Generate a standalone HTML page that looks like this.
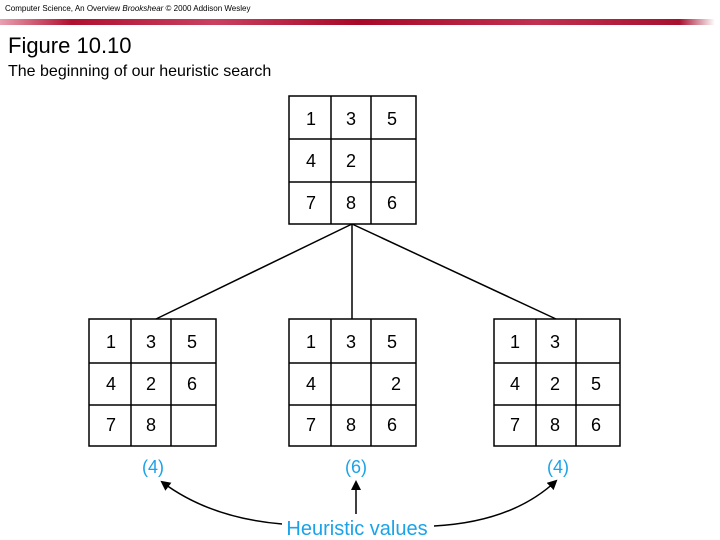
<!DOCTYPE html>
<html><head><meta charset="utf-8"><style>
html,body{margin:0;padding:0;background:#fff}
svg{display:block}
</style></head><body>
<svg width="720" height="540" viewBox="0 0 720 540" xmlns="http://www.w3.org/2000/svg" font-family="Liberation Sans, sans-serif">
<defs>
<linearGradient id="rb" x1="0" x2="1" y1="0" y2="0">
<stop offset="0" stop-color="#e8a0b0"/><stop offset="0.1" stop-color="#b01030"/><stop offset="0.3" stop-color="#c84060"/><stop offset="0.5" stop-color="#a80828"/><stop offset="0.75" stop-color="#c03050"/><stop offset="0.95" stop-color="#a81030"/><stop offset="1" stop-color="#fff"/>
</linearGradient>
<marker id="ah" markerWidth="10" markerHeight="10" refX="8" refY="5" orient="auto" markerUnits="userSpaceOnUse"><path d="M0,0 L10,5 L0,10 z" fill="#000"/></marker>
</defs>
<text x="5" y="11" font-size="8" fill="#000">Computer Science, An Overview <tspan font-style="italic">Brookshear</tspan> © 2000 Addison Wesley</text>
<rect x="0" y="19" width="715" height="6" fill="url(#rb)"/>
<text x="8" y="53" font-size="22" fill="#000">Figure 10.10</text>
<text x="8" y="76" font-size="16" fill="#000">The beginning of our heuristic search</text>
<g stroke="#000" stroke-width="1.5" fill="none">
<line x1="352" y1="224" x2="156" y2="319"/><line x1="352" y1="224" x2="352" y2="319"/><line x1="352" y1="224" x2="556" y2="319"/>
<!-- top -->
<rect x="289" y="96" width="127" height="128"/><line x1="331" y1="96" x2="331" y2="224"/><line x1="371" y1="96" x2="371" y2="224"/><line x1="289" y1="139" x2="416" y2="139"/><line x1="289" y1="182" x2="416" y2="182"/>
<!-- bottoms -->
<rect x="89" y="319" width="127" height="127"/><line x1="131" y1="319" x2="131" y2="446"/><line x1="171" y1="319" x2="171" y2="446"/><line x1="89" y1="363" x2="216" y2="363"/><line x1="89" y1="405" x2="216" y2="405"/>
<rect x="289" y="319" width="127" height="127"/><line x1="331" y1="319" x2="331" y2="446"/><line x1="371" y1="319" x2="371" y2="446"/><line x1="289" y1="363" x2="416" y2="363"/><line x1="289" y1="405" x2="416" y2="405"/>
<rect x="494" y="319" width="126" height="127"/><line x1="536" y1="319" x2="536" y2="446"/><line x1="576" y1="319" x2="576" y2="446"/><line x1="494" y1="363" x2="620" y2="363"/><line x1="494" y1="405" x2="620" y2="405"/>
</g>
<g font-size="18" fill="#000" text-anchor="middle">
<text x="311" y="125">1</text><text x="351" y="125">3</text><text x="392" y="125">5</text>
<text x="311" y="167">4</text><text x="351" y="167">2</text>
<text x="311" y="209">7</text><text x="351" y="209">8</text><text x="392" y="209">6</text>

<text x="111" y="348">1</text><text x="151" y="348">3</text><text x="192" y="348">5</text>
<text x="111" y="390">4</text><text x="151" y="390">2</text><text x="192" y="390">6</text>
<text x="111" y="431">7</text><text x="151" y="431">8</text>

<text x="311" y="348">1</text><text x="351" y="348">3</text><text x="392" y="348">5</text>
<text x="311" y="390">4</text><text x="396" y="390">2</text>
<text x="311" y="431">7</text><text x="351" y="431">8</text><text x="392" y="431">6</text>

<text x="515" y="348">1</text><text x="555" y="348">3</text>
<text x="515" y="390">4</text><text x="555" y="390">2</text><text x="596" y="390">5</text>
<text x="515" y="431">7</text><text x="555" y="431">8</text><text x="596" y="431">6</text>
</g>
<g font-size="18" fill="#1aa3e8" text-anchor="middle">
<text x="153" y="473">(4)</text><text x="356" y="473">(6)</text><text x="558" y="473">(4)</text>
<text x="357" y="535" font-size="20">Heuristic values</text>
</g>
<g stroke="#000" stroke-width="1.5" fill="none">
<path d="M282,524 Q210,518 162,482" marker-end="url(#ah)"/>
<line x1="356" y1="514" x2="356" y2="482" marker-end="url(#ah)"/>
<path d="M434,526 Q512,522 556,481" marker-end="url(#ah)"/>
</g>
</svg>
</body></html>
